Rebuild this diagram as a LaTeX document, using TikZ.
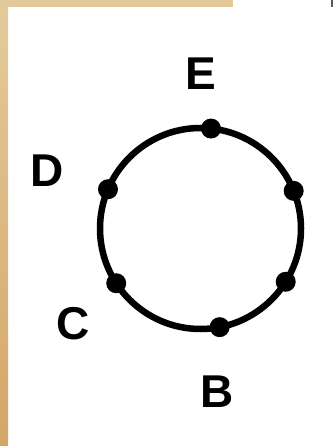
\documentclass[tikz,border=0pt]{standalone}
\usepackage{fontspec}
\setmainfont{Liberation Sans}
\usetikzlibrary{calc}
\definecolor{tanA}{RGB}{228,203,156}
\definecolor{tanB}{RGB}{212,166,104}
\definecolor{tanTop}{RGB}{227,201,154}
\begin{document}
\begin{tikzpicture}[x=1pt,y=-1pt,
  lbl/.style={inner sep=0pt,font=\fontsize{46}{46}\selectfont\bfseries},
  dot/.style={circle,fill=black,minimum size=20pt,inner sep=0pt},
  ring/.style={line width=6.5pt}]
\useasboundingbox (0,0) rectangle (333,446);
\fill[white] (0,0) rectangle (333,446);
\shade[top color=tanA,bottom color=tanB] (0,0) rectangle (8,446);
\fill[tanTop] (0,0) rectangle (233,7.5);
\fill[gray!70!black] (330.5,0) rectangle (333,7.5);
\coordinate (O) at (200.5,228.5);
\draw[ring] (O) circle[radius=100.5];
\node[dot] (pE) at ($(O)+(-84:100.5)$) {};
\node[dot] (pR1) at ($(O)+(-22:100.5)$) {};
\node[dot] (pR2) at ($(O)+(32:100.5)$) {};
\node[dot] (pB) at ($(O)+(79:100.5)$) {};
\node[dot] (pC) at ($(O)+(147:100.5)$) {};
\node[dot] (pD) at ($(O)+(203:100.5)$) {};
\node[lbl] (E) at (201,74) {E};
\node[lbl] (B) at (217.5,392) {B};
\node[lbl] (D) at (47.5,171) {D};
\node[lbl] (C) at (73.5,324) {C};
\end{tikzpicture}
\end{document}
